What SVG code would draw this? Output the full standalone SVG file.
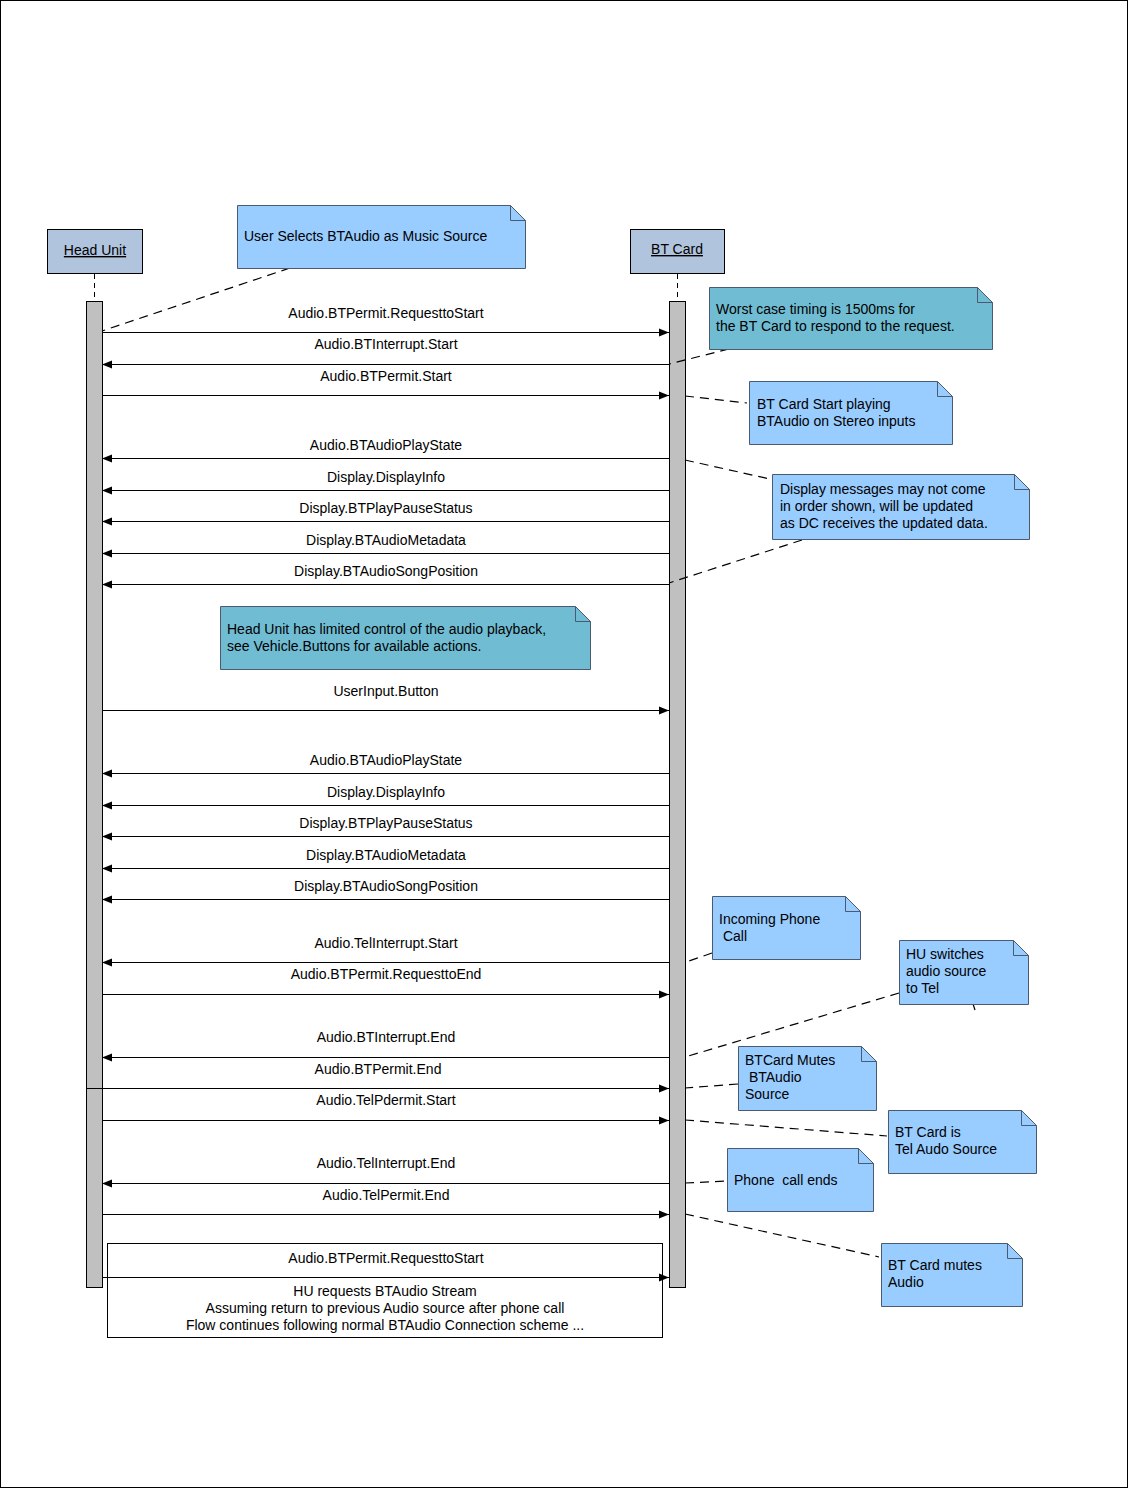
<svg xmlns="http://www.w3.org/2000/svg" width="1128" height="1488" viewBox="0 0 1128 1488">
<defs>
<style>
text{font-family:"Liberation Sans",Arial,sans-serif;font-size:14px;fill:#000;white-space:pre}
.lbl{text-anchor:middle}
.msg{stroke:#000;stroke-width:1.2;fill:none}
.r{marker-end:url(#ah)}
.note{stroke:#4a5a70;stroke-width:1}
.blue{fill:#99ccff}
.teal{fill:#70bdd3}
.fold{fill:none;stroke:#4a5a70;stroke-width:1}
.dash{stroke:#000;stroke-width:1.2;stroke-dasharray:9,6;fill:none}
.act{fill:#c0c0c0;stroke:#000;stroke-width:1}
.actor{fill:#b0c4de;stroke:#000;stroke-width:1}
</style>
<marker id="ah" viewBox="0 0 10 10" refX="10" refY="5" markerWidth="10" markerHeight="10" markerUnits="userSpaceOnUse" orient="auto">
<path d="M0,1 L10,5 L0,9 Z" fill="#000"/>
</marker>
</defs>
<rect x="0.5" y="0.5" width="1127" height="1487" fill="#fff" stroke="#000"/>

<g id="head-unit">
<rect class="actor" x="47.5" y="229.5" width="95" height="44"/>
<text x="95" y="255" class="lbl" text-decoration="underline">Head Unit</text>
<line x1="94.5" y1="274" x2="94.5" y2="301" stroke="#000" stroke-dasharray="5,4"/>
<rect class="act" x="86.5" y="301.5" width="16" height="986"/>
</g>
<g id="bt-card">
<rect class="actor" x="630.5" y="229.5" width="94" height="44"/>
<text x="677" y="254" class="lbl" text-decoration="underline">BT Card</text>
<line x1="677.5" y1="274" x2="677.5" y2="301" stroke="#000" stroke-dasharray="5,4"/>
<rect class="act" x="669.5" y="301.5" width="16" height="986"/>
</g>

<g id="connectors">
<line class="msg r" x1="102" y1="332.5" x2="669" y2="332.5"/>
<line class="msg r" x1="669" y1="364.5" x2="102" y2="364.5"/>
<line class="msg r" x1="102" y1="395.5" x2="669" y2="395.5"/>
<line class="msg r" x1="669" y1="458.5" x2="102" y2="458.5"/>
<line class="msg r" x1="669" y1="490.5" x2="102" y2="490.5"/>
<line class="msg r" x1="669" y1="521.5" x2="102" y2="521.5"/>
<line class="msg r" x1="669" y1="553.5" x2="102" y2="553.5"/>
<line class="msg r" x1="669" y1="584.5" x2="102" y2="584.5"/>
<line class="msg r" x1="102" y1="710.5" x2="669" y2="710.5"/>
<line class="msg r" x1="669" y1="773.5" x2="102" y2="773.5"/>
<line class="msg r" x1="669" y1="805.5" x2="102" y2="805.5"/>
<line class="msg r" x1="669" y1="836.5" x2="102" y2="836.5"/>
<line class="msg r" x1="669" y1="868.5" x2="102" y2="868.5"/>
<line class="msg r" x1="669" y1="899.5" x2="102" y2="899.5"/>
<line class="msg r" x1="669" y1="962.5" x2="102" y2="962.5"/>
<line class="msg r" x1="102" y1="994.5" x2="669" y2="994.5"/>
<line class="msg r" x1="669" y1="1057.5" x2="102" y2="1057.5"/>
<line class="msg r" x1="86" y1="1088.5" x2="669" y2="1088.5"/>
<line class="msg r" x1="102" y1="1120.5" x2="669" y2="1120.5"/>
<line class="msg r" x1="669" y1="1183.5" x2="102" y2="1183.5"/>
<line class="msg r" x1="102" y1="1214.5" x2="669" y2="1214.5"/>
<line class="msg r" x1="102" y1="1277.5" x2="669" y2="1277.5"/>

<path class="dash" d="M290,268 L102,331"/>
<path class="dash" d="M729,349 L669,364"/>
<path class="dash" d="M685,396 L747,403"/>
<path class="dash" d="M685,460 L770,479"/>
<path class="dash" d="M802,540 L669,583"/>
<path class="dash" d="M712,953 L686,962"/>
<path class="dash" d="M899,993 L685,1057"/>
<path class="dash" d="M973,1004 L975,1010"/>
<path class="dash" d="M738,1084 L685,1088"/>
<path class="dash" d="M685,1120 L887,1136"/>
<path class="dash" d="M685,1183 L727,1181"/>
<path class="dash" d="M685,1214 L879,1257"/>
</g>

<g id="message-labels">
<text class="lbl" x="386" y="318">Audio.BTPermit.RequesttoStart</text>
<text class="lbl" x="386" y="349">Audio.BTInterrupt.Start</text>
<text class="lbl" x="386" y="381">Audio.BTPermit.Start</text>
<text class="lbl" x="386" y="450">Audio.BTAudioPlayState</text>
<text class="lbl" x="386" y="482">Display.DisplayInfo</text>
<text class="lbl" x="386" y="513">Display.BTPlayPauseStatus</text>
<text class="lbl" x="386" y="545">Display.BTAudioMetadata</text>
<text class="lbl" x="386" y="576">Display.BTAudioSongPosition</text>
<text class="lbl" x="386" y="696">UserInput.Button</text>
<text class="lbl" x="386" y="765">Audio.BTAudioPlayState</text>
<text class="lbl" x="386" y="797">Display.DisplayInfo</text>
<text class="lbl" x="386" y="828">Display.BTPlayPauseStatus</text>
<text class="lbl" x="386" y="860">Display.BTAudioMetadata</text>
<text class="lbl" x="386" y="891">Display.BTAudioSongPosition</text>
<text class="lbl" x="386" y="948">Audio.TelInterrupt.Start</text>
<text class="lbl" x="386" y="979">Audio.BTPermit.RequesttoEnd</text>
<text class="lbl" x="386" y="1042">Audio.BTInterrupt.End</text>
<text class="lbl" x="378" y="1074">Audio.BTPermit.End</text>
<text class="lbl" x="386" y="1105">Audio.TelPdermit.Start</text>
<text class="lbl" x="386" y="1168">Audio.TelInterrupt.End</text>
<text class="lbl" x="386" y="1200">Audio.TelPermit.End</text>
</g>

<g id="continuation-box">
<rect x="107.5" y="1243.5" width="555" height="94" fill="none" stroke="#000"/>
<text class="lbl" x="386" y="1263">Audio.BTPermit.RequesttoStart</text>
<text class="lbl" x="385" y="1296">HU requests BTAudio Stream</text>
<text class="lbl" x="385" y="1313">Assuming return to previous Audio source after phone call</text>
<text class="lbl" x="385" y="1330">Flow continues following normal BTAudio Connection scheme ...</text>
</g>

<g id="note-user-selects">
<path class="note blue" d="M237.5,205.5 H510.5 L525.5,220.5 V268.5 H237.5 Z"/>
<path class="fold" d="M510.5,205.5 V220.5 H525.5"/>
<text x="244" y="241">User Selects BTAudio as Music Source</text>
</g>
<g id="note-worst-case">
<path class="note teal" d="M709.5,287.5 H977.5 L992.5,302.5 V349.5 H709.5 Z"/>
<path class="fold" d="M977.5,287.5 V302.5 H992.5"/>
<text x="716" y="314">Worst case timing is 1500ms for</text>
<text x="716" y="331">the BT Card to respond to the request.</text>
</g>
<g id="note-start-playing">
<path class="note blue" d="M749.5,381.5 H937.5 L952.5,396.5 V444.5 H749.5 Z"/>
<path class="fold" d="M937.5,381.5 V396.5 H952.5"/>
<text x="757" y="409">BT Card Start playing</text>
<text x="757" y="426">BTAudio on Stereo inputs</text>
</g>
<g id="note-display-messages">
<path class="note blue" d="M772.5,474.5 H1014.5 L1029.5,489.5 V539.5 H772.5 Z"/>
<path class="fold" d="M1014.5,474.5 V489.5 H1029.5"/>
<text x="780" y="494">Display messages may not come</text>
<text x="780" y="511">in order shown, will be updated</text>
<text x="780" y="528">as DC receives the updated data.</text>
</g>
<g id="note-limited-control">
<path class="note teal" d="M220.5,606.5 H575.5 L590.5,621.5 V669.5 H220.5 Z"/>
<path class="fold" d="M575.5,606.5 V621.5 H590.5"/>
<text x="227" y="634">Head Unit has limited control of the audio playback,</text>
<text x="227" y="651">see Vehicle.Buttons for available actions.</text>
</g>
<g id="note-incoming-call">
<path class="note blue" d="M712.5,896.5 H845.5 L860.5,911.5 V959.5 H712.5 Z"/>
<path class="fold" d="M845.5,896.5 V911.5 H860.5"/>
<text x="719" y="924">Incoming Phone</text>
<text x="719" y="941" xml:space="preserve"> Call</text>
</g>
<g id="note-hu-switches">
<path class="note blue" d="M899.5,940.5 H1013.5 L1028.5,955.5 V1004.5 H899.5 Z"/>
<path class="fold" d="M1013.5,940.5 V955.5 H1028.5"/>
<text x="906" y="959">HU switches</text>
<text x="906" y="976">audio source</text>
<text x="906" y="993">to Tel</text>
</g>
<g id="note-btcard-mutes">
<path class="note blue" d="M738.5,1046.5 H861.5 L876.5,1061.5 V1110.5 H738.5 Z"/>
<path class="fold" d="M861.5,1046.5 V1061.5 H876.5"/>
<text x="745" y="1065">BTCard Mutes</text>
<text x="745" y="1082" xml:space="preserve"> BTAudio</text>
<text x="745" y="1099">Source</text>
</g>
<g id="note-tel-source">
<path class="note blue" d="M888.5,1110.5 H1021.5 L1036.5,1125.5 V1173.5 H888.5 Z"/>
<path class="fold" d="M1021.5,1110.5 V1125.5 H1036.5"/>
<text x="895" y="1137">BT Card is</text>
<text x="895" y="1154">Tel Audo Source</text>
</g>
<g id="note-call-ends">
<path class="note blue" d="M727.5,1148.5 H858.5 L873.5,1163.5 V1211.5 H727.5 Z"/>
<path class="fold" d="M858.5,1148.5 V1163.5 H873.5"/>
<text x="734" y="1185" xml:space="preserve">Phone  call ends</text>
</g>
<g id="note-mutes-audio">
<path class="note blue" d="M881.5,1243.5 H1007.5 L1022.5,1258.5 V1306.5 H881.5 Z"/>
<path class="fold" d="M1007.5,1243.5 V1258.5 H1022.5"/>
<text x="888" y="1270">BT Card mutes</text>
<text x="888" y="1287">Audio</text>
</g>
</svg>
